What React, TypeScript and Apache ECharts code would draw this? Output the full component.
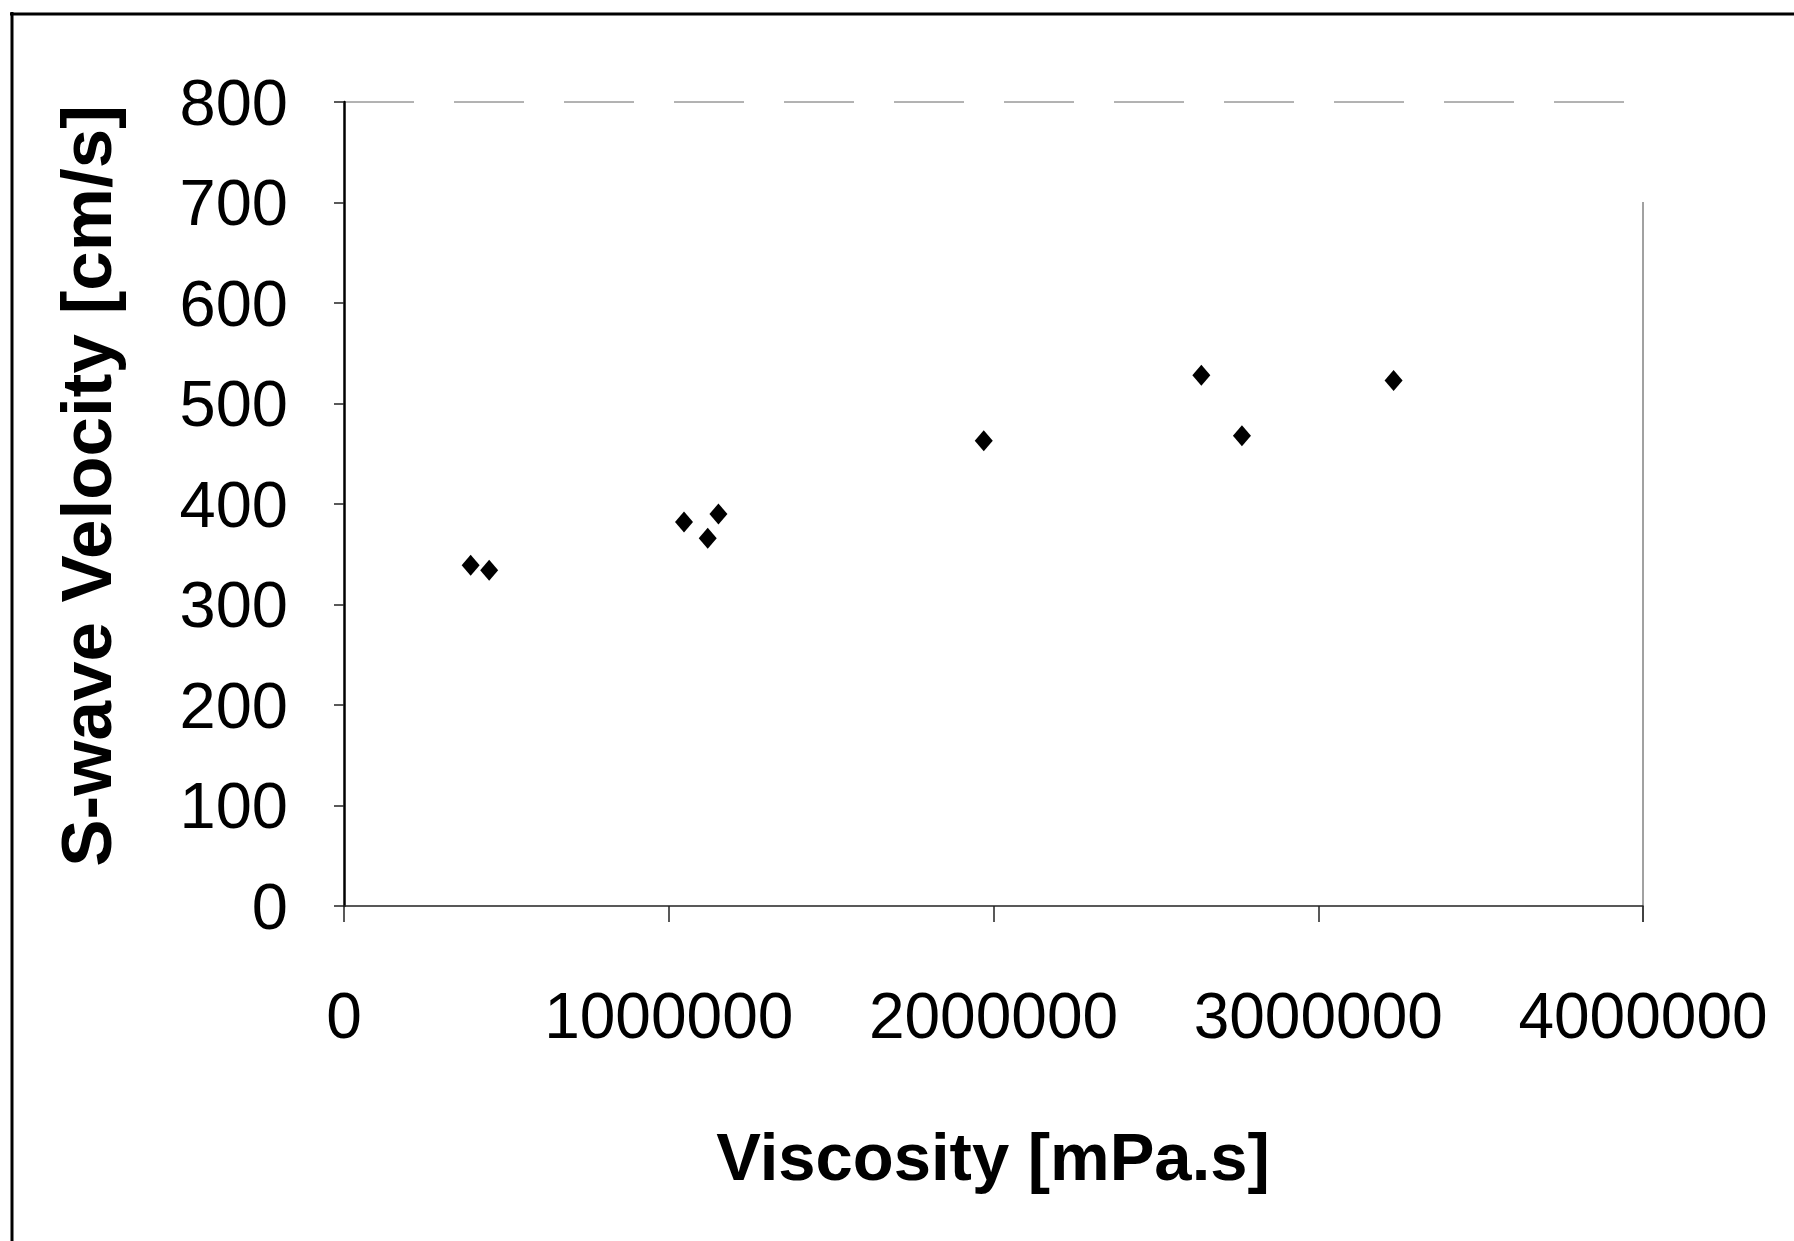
import React, { useEffect, useRef } from "react";
import * as echarts from "echarts";

// Data
const viscosity = [390000, 447000, 1047000, 1120000, 1153000, 1970000, 2640000, 2765000, 3232000];
const sWaveVelocity = [339, 334, 382, 366, 390, 463, 528, 468, 523];

const xTicks = [0, 1000000, 2000000, 3000000, 4000000];
const yTicks = [0, 100, 200, 300, 400, 500, 600, 700, 800];

const xTitle = "Viscosity [mPa.s]";
const yTitle = "S-wave Velocity [cm/s]";

const FONT = "'Liberation Sans', Arial, Helvetica, sans-serif";

export default function App() {
  const ref = useRef<HTMLDivElement>(null);

  useEffect(() => {
    document.body.style.margin = "0";
    if (!ref.current) return;
    const chart = echarts.init(ref.current, null, { renderer: "svg" });

    const left = 344;
    const top = 102;
    const width = 1299;
    const height = 804;

    chart.setOption({
      animation: false,
      backgroundColor: "#ffffff",
      grid: { left, top, width, height, containLabel: false, show: false },
      xAxis: {
        type: "value",
        min: xTicks[0],
        max: xTicks[xTicks.length - 1],
        interval: xTicks[1] - xTicks[0],
        splitLine: { show: false },
        axisLine: { show: true, onZero: false, lineStyle: { color: "#222", width: 1.5 } },
        axisTick: { show: true, inside: false, length: 16, lineStyle: { color: "#222", width: 1.5 } },
        axisLabel: {
          show: true,
          margin: 78,
          fontSize: 64,
          fontFamily: FONT,
          color: "#000",
          formatter: (v: number) => String(v),
        },
      },
      yAxis: {
        type: "value",
        min: yTicks[0],
        max: yTicks[yTicks.length - 1],
        interval: yTicks[1] - yTicks[0],
        splitLine: { show: false },
        axisLine: { show: true, onZero: false, lineStyle: { color: "#000", width: 2.5 } },
        axisTick: { show: true, inside: false, length: 10, lineStyle: { color: "#222", width: 1.5 } },
        axisLabel: {
          show: true,
          margin: 56,
          fontSize: 65,
          fontFamily: FONT,
          color: "#000",
        },
      },
      graphic: [
        // outer chart border (left and top)
        { type: "line", shape: { x1: 12, y1: 12, x2: 12, y2: 1241 }, style: { stroke: "#000", lineWidth: 3 } },
        { type: "line", shape: { x1: 10, y1: 14, x2: 1794, y2: 14 }, style: { stroke: "#000", lineWidth: 3 } },
        // plot area border (top and right), faint as in the scan
        { type: "line", shape: { x1: left, y1: top, x2: left + width, y2: top }, style: { stroke: "#666", lineWidth: 1, lineDash: [70, 40] } },
        { type: "line", shape: { x1: left + width, y1: top + 100, x2: left + width, y2: top + height + 16 }, style: { stroke: "#444", lineWidth: 1 } },
        {
          type: "text",
          x: 993,
          y: 1156,
          style: {
            text: xTitle,
            font: `bold 67px ${FONT}`,
            fill: "#000",
            align: "center",
            verticalAlign: "middle",
          },
        },
        {
          type: "text",
          x: 86,
          y: 486,
          rotation: Math.PI / 2,
          style: {
            text: yTitle,
            font: `bold 71px ${FONT}`,
            fill: "#000",
            align: "center",
            verticalAlign: "middle",
          },
        },
      ],
      series: [
        {
          type: "scatter",
          data: viscosity.map((x, i) => [x, sWaveVelocity[i]]),
          symbol: "diamond",
          symbolSize: [18, 21],
          itemStyle: { color: "#000", opacity: 1 },
        },
      ],
    });

    return () => chart.dispose();
  }, []);

  return <div ref={ref} style={{ width: 1794, height: 1241 }} />;
}
